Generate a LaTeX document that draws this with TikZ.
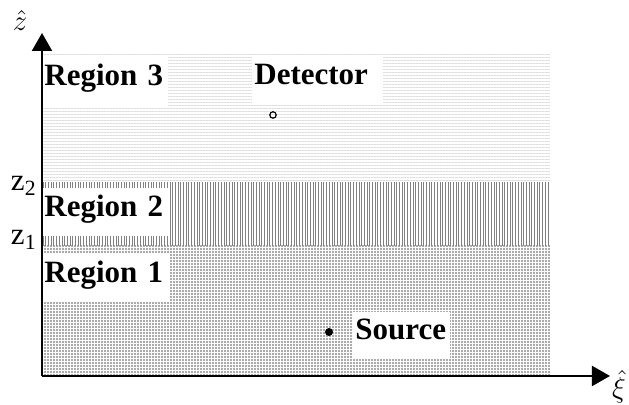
\documentclass[tikz,border=0pt]{standalone}
\usepackage{fontspec}
\setmainfont{Liberation Serif}
\usetikzlibrary{arrows.meta}
\usetikzlibrary{patterns.meta}
\usetikzlibrary{positioning}
\tikzset {
  % coordinate axis with a solid head
  axis/.style = {
    draw = black,
    line width = 1pt,
    -{Triangle[length = 9pt, width = 10pt]}
  },
  % the three layers
  layer three/.style = {
    pattern = {Lines[angle = 0, distance = 1.5pt, line width = 0.45pt]},
    pattern color = gray!25
  },
  layer two/.style = {
    pattern = {Lines[angle = 90, distance = 1.35pt, line width = 0.5pt]},
    pattern color = gray
  },
  layer one/.style = {
    pattern = {Dots[distance = 1.5pt, radius = 0.55pt]},
    pattern color = gray!90
  }
}
\tikzset {
  % white box with bold text
  tag/.style = {
    fill = white,
    anchor = north west,
    inner xsep = 1pt,
    inner ysep = 0pt,
    align = left,
    text height = 0.68em,
    text depth = 0.22em,
    font = \bfseries\fontsize{15.5}{18}\selectfont
  },
  level/.style = {
    anchor = east,
    inner sep = 0pt,
    font = \fontsize{15.5}{18}\selectfont
  },
  unit/.style = {
    inner sep = 0pt,
    font = \fontsize{15}{17}\selectfont
  },
  detector/.style = {
    draw = black,
    circle,
    line width = 0.6pt,
    minimum size = 3.2pt,
    inner sep = 0
  },
  source/.style = {
    fill = black,
    circle,
    minimum size = 4pt,
    inner sep = 0
  }
}

\begin{document}
\begin{tikzpicture}[x = 0.5pt, y = 0.5pt]
    \useasboundingbox (0,0) rectangle (629,405);

    \fill[layer one] (42,29) rectangle (550,159);
    \fill[layer two] (42,159) rectangle (550,222);
    \fill[layer three] (42,222) rectangle (550,350);

    \node[tag, text width = 61pt, minimum height = 26pt] (reg3) at (42,350) {Region 3};
    \node[tag, text width = 62pt, minimum height = 24pt] (reg2) at (42,217) {Region 2};
    \node[tag, text width = 62pt, minimum height = 24.5pt] (reg1) at (42,152) {Region 1};
    \node[tag, text width = 63.5pt, minimum height = 25pt] (dettag) at (252,350) {Detector};
    \node[tag, text width = 46.5pt, minimum height = 23pt] (srctag) at (353,93) {Source};

    \node[detector] (det) at (273,290) {};
    \node[source] (src) at (329,73) {};

    \node[level] (z2) at (37,219) {z\textsubscript{2}};
    \node[level] (z1) at (37,165) {z\textsubscript{1}};

    \coordinate (origin) at (42,29);
    \coordinate (ztop) at (42,372);
    \coordinate (xiend) at (610,29);
    \draw[axis] (origin) -- (ztop);
    \draw[axis] (origin) -- (xiend);

    \node[unit] (zhat) at (20,384) {$\hat{z}$};
    \node[unit] (xihat) at (619,18) {$\hat{\xi}$};

  \end{tikzpicture}
\end{document}
